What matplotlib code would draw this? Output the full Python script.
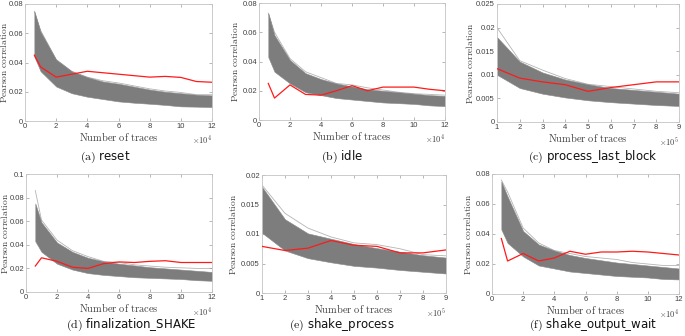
import matplotlib
matplotlib.use("Agg")
import matplotlib.pyplot as plt
from matplotlib.ticker import FuncFormatter

plt.rcParams['mathtext.fontset'] = 'cm'
plt.rcParams['font.family'] = ['DejaVu Sans']

# x values (multiplied by 1e4 or 1e5 on the axis)
x_1e4 = [0.6, 1, 2, 3, 4, 5, 6, 7, 8, 9, 10, 11, 12]
x_1e5 = [1, 2, 3, 4, 5, 6, 7, 8, 9]

# (a) reset
reset_hi = [0.075, 0.061, 0.042, 0.034, 0.030, 0.027, 0.0255, 0.0235, 0.0215, 0.020, 0.019, 0.018, 0.0175]
reset_lo = [0.044, 0.034, 0.0236, 0.019, 0.0166, 0.015, 0.0134, 0.0125, 0.0118, 0.011, 0.010, 0.0098, 0.0095]
reset_out = [0.075, 0.062, 0.042, 0.034, 0.030, 0.0275, 0.026, 0.024, 0.022, 0.0205, 0.0195, 0.018, 0.018]
reset_key = [0.045, 0.037, 0.030, 0.032, 0.034, 0.033, 0.032, 0.031, 0.030, 0.0305, 0.0298, 0.027, 0.0265]

# (b) idle
idle_hi = [0.073, 0.058, 0.041, 0.032, 0.028, 0.025, 0.023, 0.021, 0.020, 0.019, 0.018, 0.017, 0.0165]
idle_lo = [0.043, 0.033, 0.025, 0.019, 0.017, 0.015, 0.014, 0.013, 0.012, 0.0115, 0.011, 0.010, 0.0095]
idle_out = [0.073, 0.060, 0.042, 0.033, 0.029, 0.025, 0.024, 0.022, 0.0205, 0.019, 0.018, 0.0175, 0.017]
idle_key = [0.025, 0.015, 0.024, 0.0175, 0.017, 0.020, 0.0235, 0.020, 0.0225, 0.0225, 0.0225, 0.021, 0.020]

# (c) process_last_block
plb_hi = [0.018, 0.0128, 0.0105, 0.009, 0.008, 0.0072, 0.0068, 0.0064, 0.006]
plb_lo = [0.010, 0.0072, 0.006, 0.0052, 0.0046, 0.0042, 0.0039, 0.0036, 0.0034]
plb_out = [0.020, 0.013, 0.011, 0.0092, 0.008, 0.0075, 0.007, 0.0065, 0.0062]
plb_key = [0.0113, 0.0093, 0.0085, 0.0079, 0.0065, 0.0073, 0.0079, 0.0085, 0.0085]

# (d) finalization_SHAKE
fin_hi = [0.075, 0.059, 0.042, 0.034, 0.029, 0.026, 0.024, 0.0225, 0.021, 0.020, 0.019, 0.018, 0.017]
fin_lo = [0.043, 0.034, 0.024, 0.019, 0.016, 0.0145, 0.0135, 0.0125, 0.012, 0.0115, 0.011, 0.010, 0.0095]
fin_out = [0.086, 0.061, 0.044, 0.035, 0.030, 0.026, 0.025, 0.023, 0.022, 0.021, 0.0205, 0.020, 0.020]
fin_key = [0.022, 0.029, 0.026, 0.021, 0.020, 0.024, 0.0255, 0.025, 0.026, 0.0265, 0.025, 0.025, 0.025]

# (e) shake_process
sp_hi = [0.018, 0.0125, 0.0101, 0.0092, 0.0083, 0.0076, 0.007, 0.0064, 0.006]
sp_lo = [0.0102, 0.0072, 0.0059, 0.0052, 0.0046, 0.0043, 0.0039, 0.0036, 0.0033]
sp_out = [0.0183, 0.0135, 0.011, 0.0095, 0.0085, 0.0082, 0.0075, 0.0065, 0.0063]
sp_key = [0.0079, 0.0072, 0.0076, 0.0089, 0.0081, 0.0079, 0.0068, 0.0068, 0.0073]

# (f) shake_output_wait
sow_hi = [0.075, 0.065, 0.042, 0.033, 0.029, 0.026, 0.024, 0.0225, 0.021, 0.020, 0.019, 0.018, 0.017]
sow_lo = [0.043, 0.034, 0.025, 0.019, 0.017, 0.015, 0.014, 0.013, 0.012, 0.0115, 0.011, 0.010, 0.0097]
sow_out = [0.076, 0.068, 0.044, 0.034, 0.029, 0.027, 0.025, 0.024, 0.023, 0.021, 0.020, 0.019, 0.019]
sow_key = [0.037, 0.022, 0.027, 0.022, 0.024, 0.0285, 0.0265, 0.028, 0.028, 0.0285, 0.028, 0.027, 0.026]

W, H = 685, 336

def px_axes(fig, x0, x1, y0, y1):
    return fig.add_axes([x0 / W, 1 - y1 / H, (x1 - x0) / W, (y1 - y0) / H])

def panel(ax, x, lo, hi, out, key, ylim, ystep, xlim, xticks, exp, ylab_off):
    ax.plot(x, out, color="#b4b4b4", lw=0.6, zorder=1)
    ax.fill_between(x, lo, hi, color="#7d7d7d", lw=0.4, edgecolor="#8a8a8a", zorder=2)
    ax.plot(x, key, color="#ff1a1a", lw=0.9, zorder=3)
    ax.set_xlim(*xlim)
    ax.set_ylim(0, ylim)
    ax.set_xticks(xticks)
    n = int(round(ylim / ystep))
    ax.set_yticks([i * ystep for i in range(n + 1)])
    ax.yaxis.set_major_formatter(FuncFormatter(lambda v, p: "%g" % round(v, 4)))
    ax.xaxis.set_major_formatter(FuncFormatter(lambda v, p: "%g" % v))
    for s in ax.spines.values():
        s.set_color("#c4c4c4")
        s.set_linewidth(0.6)
    ax.tick_params(direction="in", length=2, width=0.5, color="#9a9a9a",
                   labelsize=5.5, labelcolor="#404040", pad=1.5,
                   top=True, right=True)
    for lab in ax.get_xticklabels() + ax.get_yticklabels():
        lab.set_family("Liberation Sans")
    ax.set_xlabel(r"$\mathrm{Number\ of\ traces}$", fontsize=7.5, color="#404040", labelpad=1)
    ax.set_ylabel(r"$\mathrm{Pearson\ correlation}$", fontsize=6.8, color="#404040")
    # put the y label at a fixed pixel offset from the axis
    w_px = ax.get_position().width * W
    ax.yaxis.set_label_coords(-ylab_off / w_px, 0.5)
    ax.text(1.0, -0.17, r"$\times\mathsf{10^{%d}}$" % exp, transform=ax.transAxes,
            ha="right", va="center", fontsize=6, color="#404040")

fig = plt.figure(figsize=(6.85, 3.36), dpi=100)

ax = px_axes(fig, 25, 212, 4, 121)
panel(ax, x_1e4, reset_lo, reset_hi, reset_out, reset_key, 0.08, 0.02, (0, 12), range(0, 13, 2), 4, 15.5)
ax = px_axes(fig, 259, 445, 3, 120)
panel(ax, x_1e4, idle_lo, idle_hi, idle_out, idle_key, 0.08, 0.02, (0, 12), range(0, 13, 2), 4, 19)
ax = px_axes(fig, 497, 679, 4, 122)
panel(ax, x_1e5, plb_lo, plb_hi, plb_out, plb_key, 0.025, 0.005, (1, 9), range(1, 10), 5, 22)
ax = px_axes(fig, 26, 212, 174, 292)
panel(ax, x_1e4, fin_lo, fin_hi, fin_out, fin_key, 0.1, 0.02, (0, 12), range(0, 13, 2), 4, 16)
ax = px_axes(fig, 262, 446, 175, 293)
panel(ax, x_1e5, sp_lo, sp_hi, sp_out, sp_key, 0.02, 0.005, (1, 9), range(1, 10), 5, 24)
ax = px_axes(fig, 492, 679, 174, 294)
panel(ax, x_1e4, sow_lo, sow_hi, sow_out, sow_key, 0.08, 0.02, (0, 12), range(0, 13, 2), 4, 19)

captions = [("a", "reset", 105, 157), ("b", "idle", 342, 157),
            ("c", "process_last_block", 593, 157), ("d", "finalization_SHAKE", 131, 325),
            ("e", "shake_process", 342, 325), ("f", "shake_output_wait", 593, 325)]
for letter, name, cx, cy in captions:
    fig.text(cx / W, 1 - cy / H, r"$\mathrm{(%s)}$ %s" % (letter, name),
             ha="center", va="center", fontsize=8.5, color="#111111")

plt.savefig("out.png", dpi=100)
